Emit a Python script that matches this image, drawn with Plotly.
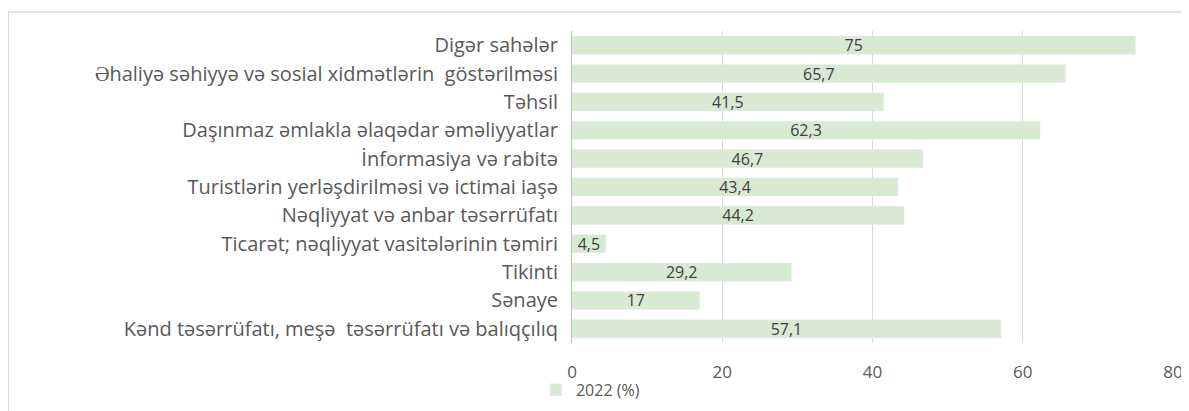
import plotly.graph_objects as go

sectors = [
    "Digər sahələr",
    "Əhaliyə səhiyyə və sosial xidmətlərin  göstərilməsi",
    "Təhsil",
    "Daşınmaz əmlakla əlaqədar əməliyyatlar",
    "İnformasiya və rabitə",
    "Turistlərin yerləşdirilməsi və ictimai iaşə",
    "Nəqliyyat və anbar təsərrüfatı",
    "Ticarət; nəqliyyat vasitələrinin təmiri",
    "Tikinti",
    "Sənaye",
    "Kənd təsərrüfatı, meşə  təsərrüfatı və balıqçılıq",
]
share_2022 = [75, 65.7, 41.5, 62.3, 46.7, 43.4, 44.2, 4.5, 29.2, 17, 57.1]
x_ticks = [0, 20, 40, 60, 80]

labels = [f"{v:g}".replace(".", ",") for v in share_2022]
font = "Open Sans"
grey = "#595959"

fig = go.Figure()
fig.add_trace(go.Bar(
    x=share_2022, y=sectors, orientation="h", name="2022 (%)",
    marker_color="#d9ead3", text=labels, textposition="inside",
    insidetextanchor="middle", textangle=0, constraintext="none",
    textfont=dict(family=font, size=16, color="#404040"),
))

# page has an 8px body margin, so the figure is a bit smaller than the window
fig.update_layout(
    width=1181, height=403,
    margin=dict(l=564, r=16, t=23, b=68, autoexpand=False),
    paper_bgcolor="white", plot_bgcolor="white",
    bargap=0.36,
    font=dict(family=font, color=grey, size=16),
    showlegend=True,
    legend=dict(x=-0.06, y=-0.15, xanchor="left", yanchor="middle",
                font=dict(size=16, color=grey), itemwidth=30,
                bgcolor="rgba(0,0,0,0)"),
)
fig.update_xaxes(range=[0, 80], tickvals=x_ticks, showgrid=True,
                 gridcolor="#d9d9d9", gridwidth=1, zeroline=False,
                 automargin=False,
                 ticks="outside", ticklen=14, tickcolor="white",
                 tickfont=dict(size=17, color=grey))
fig.update_yaxes(autorange="reversed", showline=True, linecolor="#bfbfbf",
                 automargin=False,
                 ticks="outside", ticklen=9, tickcolor="white",
                 tickfont=dict(size=20, color=grey))

fig.add_shape(type="rect", xref="paper", yref="paper",
              x0=-0.938, x1=1.015, y0=-0.24, y1=1.061,
              line=dict(color="#d9d9d9", width=1.5))

fig.write_html("out.html")
